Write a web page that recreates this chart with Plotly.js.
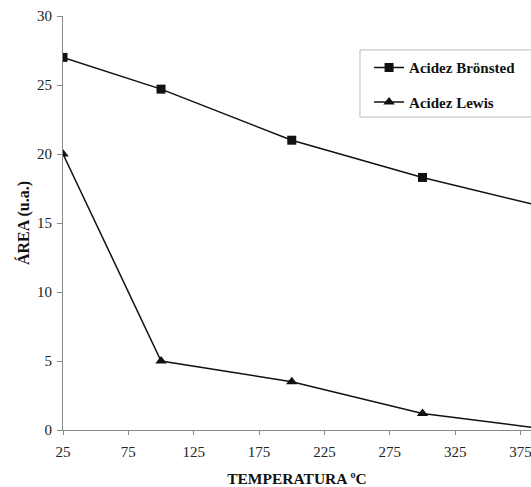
<!DOCTYPE html>
<html>
<head>
<meta charset="utf-8">
<script src="https://cdn.plot.ly/plotly-3.0.1.min.js"></script>
<style>html,body{margin:0;padding:0;background:#fff;}#chart{width:531px;height:487px;}</style>
</head>
<body>
<div id="chart"></div>
<script>
const temperatures = [25, 100, 200, 300, 400];
const bronsted = [27, 24.7, 21, 18.3, 16.0];
const lewis = [20, 5, 3.5, 1.2, 0.0];
const xTicks = [25, 75, 125, 175, 225, 275, 325, 375];
const yTicks = [0, 5, 10, 15, 20, 25, 30];

const serif = "'Liberation Serif', 'Times New Roman', Times, serif";

const traces = [
  {
    x: temperatures, y: bronsted, name: "Acidez Brönsted", mode: "lines+markers",
    line: {color: "#111", width: 1.5},
    marker: {symbol: "square", size: 9, color: "#111"},
    legendgroup: "a"
  },
  {
    x: temperatures, y: lewis, name: "Acidez Lewis", mode: "lines+markers",
    line: {color: "#111", width: 1.5},
    marker: {symbol: "triangle-up", size: 10, color: "#111"},
    legendgroup: "b"
  }
];

const layout = {
  width: 531, height: 487,
  margin: {l: 63, r: 0, t: 16, b: 57},
  paper_bgcolor: "#fff", plot_bgcolor: "#fff",
  font: {family: serif, color: "#222", size: 13},
  showlegend: true,
  shapes: [{
    type: "rect", xref: "paper", yref: "paper",
    x0: 0.6346, x1: 1.05, y0: 0.756, y1: 0.918,
    line: {color: "#bbb", width: 1}, fillcolor: "#fff", layer: "above"
  }],
  legend: {
    x: 0.654, y: 0.915, xanchor: "left", yanchor: "top",
    borderwidth: 0, bgcolor: "rgba(0,0,0,0)",
    font: {family: serif, size: 15, color: "#111", weight: "bold"},
    tracegroupgap: 12, traceorder: "grouped"
  },
  xaxis: {
    range: [25, 383], tickvals: xTicks, ticktext: xTicks.map(String),
    showgrid: false, zeroline: false, showline: true, linecolor: "#888", linewidth: 1,
    ticks: "outside", ticklen: 4, tickcolor: "#888",
    ticklabeloverflow: "allow", ticklabelstandoff: 4,
    tickfont: {family: serif, size: 15, color: "#222"},
    title: {text: "<b>TEMPERATURA ºC</b>", font: {family: serif, size: 15.5, color: "#111"}, standoff: 14}
  },
  yaxis: {
    range: [0, 30], tickvals: yTicks, ticktext: yTicks.map(String),
    showgrid: false, zeroline: false, showline: true, linecolor: "#888", linewidth: 1,
    ticks: "outside", ticklen: 5, tickcolor: "#888",
    ticklabelstandoff: 2,
    tickfont: {family: serif, size: 15, color: "#222"},
    title: {text: "<b>ÁREA (u.a.)</b>", font: {family: serif, size: 16, color: "#111"}, standoff: 3}
  }
};

Plotly.newPlot("chart", traces, layout, {displayModeBar: false, staticPlot: true});
</script>
</body>
</html>
